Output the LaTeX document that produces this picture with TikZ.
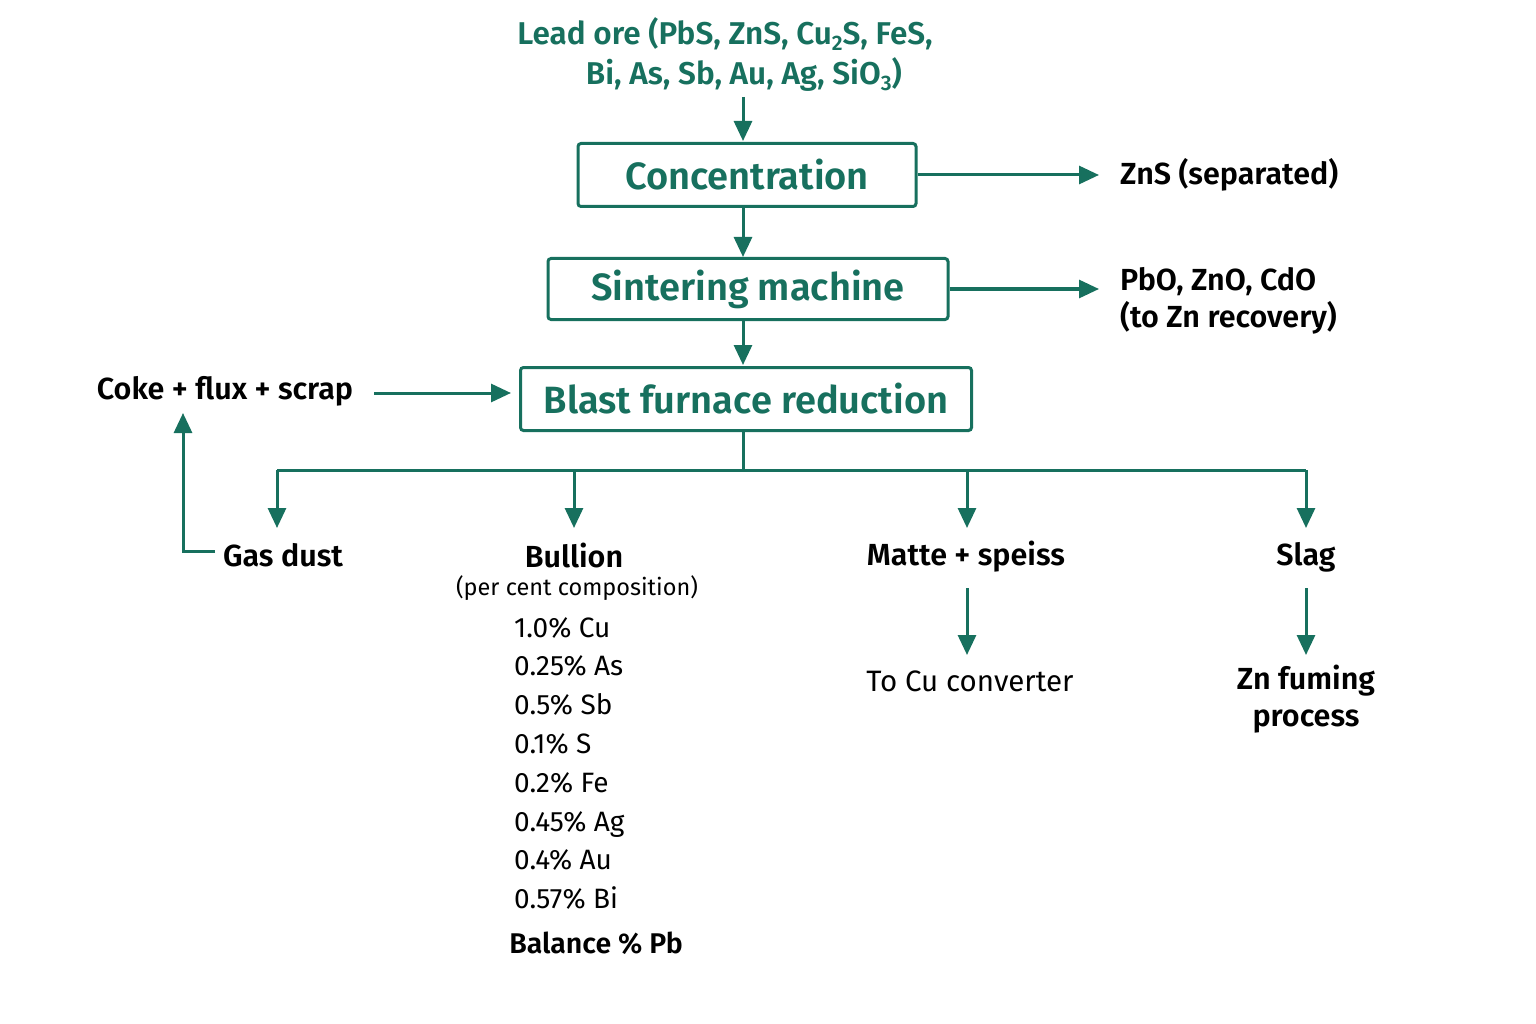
\documentclass[tikz,border=0pt]{standalone}
\usepackage{fontspec}
\setmainfont{Fira Sans}[BoldFont={Fira Sans SemiBold}]
\usetikzlibrary{arrows.meta}
\definecolor{tg}{HTML}{17705E}
\newcommand{\sbx}[1]{\raisebox{-0.35ex}{\fontsize{21}{21}\selectfont #1}}
\begin{document}
\begin{tikzpicture}[x=1pt,y=-1pt,
 box/.style={draw=tg,line width=3pt,rounded corners=3pt,inner sep=0pt,text=tg,font=\fontsize{38}{44}\selectfont\bfseries},
 ar/.style={draw=tg,line width=3pt,-{Triangle[length=20pt,width=18pt]}},
 ln/.style={draw=tg,line width=3pt},
 lbl/.style={font=\fontsize{30.5}{37}\selectfont\bfseries,inner sep=0pt},
 lst/.style={font=\fontsize{28}{38.8}\selectfont,inner sep=0pt,align=left}]
\useasboundingbox (0,0) rectangle (1536,1024);
\node[lbl,text=tg,align=center,font=\fontsize{31.5}{40}\selectfont\bfseries] (ore) at (725,55) {Lead ore (PbS, ZnS, Cu\sbx{2}S, FeS,\\\hspace*{1.2em}Bi, As, Sb, Au, Ag, SiO\sbx{3})};
\node[box,minimum width=338pt,minimum height=63pt] (con) at (747,175) {Concentration};
\node[box,minimum width=400pt,minimum height=61pt] (sin) at (748,289) {Sintering machine};
\node[box,minimum width=451pt,minimum height=63pt] (bf) at (746,399) {Blast furnace reduction};
\node[lbl,anchor=west] (zns) at (1120,175) {ZnS (separated)};
\node[lbl,anchor=west,align=left] (pbo) at (1120,301) {PbO, ZnO, CdO\\(to Zn recovery)};
\node[lbl] (coke) at (225,391) {Coke + flux + scrap};
\node[lbl] (gas) at (283,555) {Gas dust};
\node[lbl] (bul) at (574,555) {Bullion};
\node[font=\fontsize{23.5}{28}\selectfont,inner sep=0pt] (pc) at (577,588) {(per cent composition)};
\node[lst,anchor=north west] (list) at (514,617) {1.0\% Cu\\0.25\% As\\0.5\% Sb\\0.1\% S\\0.2\% Fe\\0.45\% Ag\\0.4\% Au\\0.57\% Bi};
\node[lbl,font=\fontsize{28.5}{32}\selectfont\bfseries] (bal) at (596,943) {Balance \% Pb};
\node[lbl] (mat) at (966,557) {Matte + speiss};
\node[lbl,font=\fontsize{29.5}{34}\selectfont] (cu) at (970,681) {To Cu converter};
\node[lbl] (slag) at (1306,557) {Slag};
\node[lbl,align=center] (zn) at (1306,699) {Zn fuming\\process};
\coordinate (oreb) at (743,97);
\coordinate (j) at (743,470);
\draw[ar] (oreb) -- (743,141);
\draw[ar] (743,206) -- (743,257);
\draw[ar] (743,320) -- (743,365);
\draw[ar] (con.east) -- (1099,175);
\draw[ar] (sin.east) -- (1099,289);
\draw[ar] (374,393) -- (511,393);
\draw[ln] (743,430) -- (j);
\draw[ln] (277,470) -- (1306,470);
\foreach \x in {277,574,967,1306} \draw[ar] (\x,470) -- (\x,528);
\draw[ar] (215,551) -- (183,551) -- (183,413);
\draw[ar] (967,588) -- (967,655);
\draw[ar] (1306,588) -- (1306,655);
\end{tikzpicture}
\end{document}
